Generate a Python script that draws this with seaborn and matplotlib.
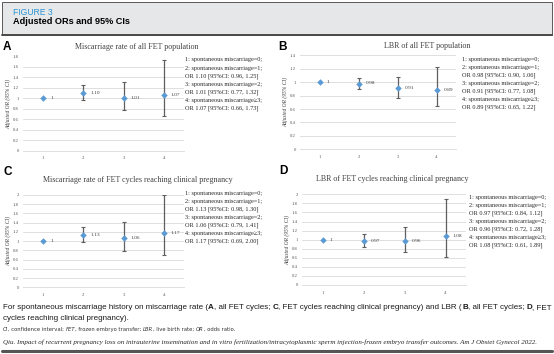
import matplotlib
matplotlib.use("Agg")
import matplotlib.pyplot as plt
import seaborn as sns
import pandas as pd
import numpy as np
from matplotlib.patches import Rectangle
from matplotlib.lines import Line2D

# ---------------- data ----------------
categories = [1, 2, 3, 4]

or_A = [1.00, 1.10, 1.01, 1.07]
lo_A = [1.00, 0.96, 0.77, 0.66]
hi_A = [1.00, 1.25, 1.32, 1.73]
lab_A = ["1", "1.10", "1.01", "1.07"]

or_B = [1.00, 0.98, 0.91, 0.89]
lo_B = [1.00, 0.90, 0.77, 0.65]
hi_B = [1.00, 1.06, 1.08, 1.22]
lab_B = ["1", "0.98", "0.91", "0.89"]

or_C = [1.00, 1.13, 1.06, 1.17]
lo_C = [1.00, 0.98, 0.79, 0.69]
hi_C = [1.00, 1.30, 1.41, 2.00]
lab_C = ["1", "1.13", "1.06", "1.17"]

or_D = [1.00, 0.97, 0.96, 1.08]
lo_D = [1.00, 0.84, 0.72, 0.61]
hi_D = [1.00, 1.12, 1.28, 1.89]
lab_D = ["1", "0.97", "0.96", "1.08"]

titles = {
    "A": "Miscarriage rate of all FET population",
    "B": "LBR of all FET population",
    "C": "Miscarriage rate of FET cycles reaching clinical pregnancy",
    "D": "LBR of FET cycles reaching clinical pregnancy",
}
ylabel = "Adjusted OR (95% CI)"

legend_A = ["1: spontaneous miscarriage=0;", "2: spontaneous miscarriage=1;",
            "OR 1.10 [95%CI: 0.96, 1.25]", "3: spontaneous miscarriage=2;",
            "OR 1.01 [95%CI: 0.77, 1.32]", "4: spontaneous miscarriage\u22653;",
            "OR 1.07 [95%CI: 0.66, 1.73]"]
legend_B = ["1: spontaneous miscarriage=0;", "2: spontaneous miscarriage=1;",
            "OR 0.98 [95%CI: 0.90, 1.06]", "3: spontaneous miscarriage=2;",
            "OR 0.91 [95%CI: 0.77, 1.08]", "4: spontaneous miscarriage\u22653;",
            "OR 0.89 [95%CI: 0.65, 1.22]"]
legend_C = ["1: spontaneous miscarriage=0;", "2: spontaneous miscarriage=1;",
            "OR 1.13 [95%CI: 0.98, 1.30]", "3: spontaneous miscarriage=2;",
            "OR 1.06 [95%CI: 0.79, 1.41]", "4: spontaneous miscarriage\u22653;",
            "OR 1.17 [95%CI: 0.69, 2.00]"]
legend_D = ["1: spontaneous miscarriage=0;", "2: spontaneous miscarriage=1;",
            "OR 0.97 [95%CI: 0.84, 1.12]", "3: spontaneous miscarriage=2;",
            "OR 0.96 [95%CI: 0.72, 1.28]", "4: spontaneous miscarriage\u22653;",
            "OR 1.08 [95%CI: 0.61, 1.89]"]

yticks_A = [0, 0.2, 0.4, 0.6, 0.8, 1, 1.2, 1.4, 1.6, 1.8]
yticks_B = [0, 0.2, 0.4, 0.6, 0.8, 1, 1.2, 1.4]
yticks_C = [0, 0.2, 0.4, 0.6, 0.8, 1, 1.2, 1.4, 1.6, 1.8, 2]
yticks_D = [0, 0.2, 0.4, 0.6, 0.8, 1, 1.2, 1.4, 1.6, 1.8, 2]

# ---------------- figure ----------------
sns.set_theme(style="white")
plt.rcParams["font.family"] = ["Liberation Serif", "DejaVu Serif"]

W, H = 554, 354
fig = plt.figure(figsize=(W / 100, H / 100), dpi=100)
fig.patch.set_facecolor("white")

def fx(px):
    return px / W

def fy(py):
    return 1 - py / H

BLUE = "#5B9BD5"
GRID = "#D9D9D9"
BAR = "#5f5f5f"

def panel(left, right, top_px, bottom_px, ymax, yticks, orv, lo, hi, labs,
          letter, letter_xy, title_xy, legend, leg_xy, ylab_x):
    ax = fig.add_axes([fx(left), fy(bottom_px), fx(right - left),
                       (bottom_px - top_px) / H])
    df = pd.DataFrame({"group": categories, "OR": orv, "lo": lo, "hi": hi})
    ax.errorbar(df["group"], df["OR"],
                yerr=[df["OR"] - df["lo"], df["hi"] - df["OR"]],
                fmt="none", ecolor=BAR, elinewidth=0.9, capsize=1.6,
                capthick=0.8, zorder=2)
    sns.scatterplot(data=df, x="group", y="OR", ax=ax, color=BLUE,
                    marker="D", s=11, linewidth=0, zorder=3, legend=False)
    for xv, yv, t in zip(df["group"], df["OR"], labs):
        ax.annotate(t, (xv, yv), xytext=(5, 0), textcoords="offset points",
                    fontsize=3.9, va="center", ha="left", color="#404040")
    ax.set_xlim(0.5, 4.5)
    ax.set_ylim(0, ymax)
    ax.set_yticks(yticks)
    ax.set_yticklabels([f"{v:g}" for v in yticks], fontsize=3.4, color="#595959")
    ax.set_xticks(categories)
    ax.set_xticklabels([str(c) for c in categories], fontsize=3.4, color="#595959")
    ax.tick_params(axis="y", length=0, pad=3)
    ax.tick_params(axis="x", length=0, pad=4)
    ax.grid(axis="y", color=GRID, linewidth=0.6)
    ax.set_axisbelow(True)
    for s in ["top", "right", "left"]:
        ax.spines[s].set_visible(False)
    ax.spines["bottom"].set_color(GRID)
    ax.spines["bottom"].set_linewidth(0.6)
    ax.set_xlabel("")
    ax.set_ylabel("")
    fig.text(fx(ylab_x), (fy(bottom_px) + fy(top_px)) / 2, ylabel,
             rotation=90, fontsize=4.0, style="italic", ha="center",
             va="center", color="#404040")
    fig.text(fx(letter_xy[0]), fy(letter_xy[1]), letter,
             fontsize=8.5, fontweight="bold", family="Liberation Sans",
             ha="left", va="center", color="black")
    fig.text(fx(title_xy[0]), fy(title_xy[1]), titles[letter],
             fontsize=5.8, ha="center", va="center", color="#404040")
    for i, line in enumerate(legend):
        fig.text(fx(leg_xy[0]), fy(leg_xy[1] + i * 8.1), line,
                 fontsize=4.5, ha="left", va="center", color="#262626")
    return ax

panel(23, 184, 56.5, 150.5, 1.8, yticks_A, or_A, lo_A, hi_A, lab_A,
      "A", (3, 47), (137, 47), legend_A, (185, 60), 8)
panel(300, 456, 55.3, 149.3, 1.4, yticks_B, or_B, lo_B, hi_B, lab_B,
      "B", (278, 47), (427, 46), legend_B, (462, 59), 285)
panel(23, 184, 195, 287.3, 2.0, yticks_C, or_C, lo_C, hi_C, lab_C,
      "C", (3, 172), (138, 180), legend_C, (185, 193), 8)
panel(302, 466, 194.3, 285, 2.0, yticks_D, or_D, lo_D, hi_D, lab_D,
      "D", (279, 171), (392, 179), legend_D, (469, 197), 287)

# ---------------- header ----------------
hdr = Rectangle((fx(2), fy(35)), fx(550), (33) / H, transform=fig.transFigure,
                facecolor="#E6E7E8", edgecolor="#5a5a5a", linewidth=0.7,
                zorder=0)
fig.patches.append(hdr)
fig.lines.append(Line2D([fx(2), fx(552)], [fy(35), fy(35)],
                        transform=fig.transFigure, color="#4a4a4a", lw=1.4))
fig.text(fx(13), fy(12.5), "FIGURE 3", fontsize=6.2, family="Liberation Sans",
         color="#2A93D5", ha="left", va="center")
fig.text(fx(13), fy(22), "Adjusted ORs and 95% CIs", fontsize=6.6,
         family="Liberation Sans", fontweight="bold", color="black",
         ha="left", va="center")

# ---------------- caption (mixed styles) ----------------
renderer = fig.canvas.get_renderer()

def run_width(text, **kw):
    t1 = fig.text(0, 0, text + "|", **kw)
    t2 = fig.text(0, 0, "|", **kw)
    w = t1.get_window_extent(renderer).width - t2.get_window_extent(renderer).width
    t1.remove()
    t2.remove()
    return w

def draw_runs(x_px, y_px, runs, **common):
    x = x_px
    for text, extra in runs:
        kw = dict(common)
        kw.update(extra)
        fig.text(fx(x), fy(y_px), text, ha="left", va="baseline", **kw)
        x += run_width(text, **kw)

cap = dict(fontsize=5.72, family="Liberation Sans", color="#1a1a1a")
B_ = {"fontweight": "bold"}
N_ = {}
draw_runs(3, 309, [
    ("For spontaneous miscarriage history on miscarriage rate (", N_),
    ("A", B_), (", all FET cycles; ", N_), ("C", B_),
    (", FET cycles reaching clinical pregnancy) and LBR (", N_),
    ("B", B_), (", all FET cycles; ", N_), ("D", B_), (", FET", N_)], **cap)
draw_runs(3, 320, [("cycles reaching clinical pregnancy).", N_)], **cap)

small = dict(fontsize=3.8, family="DejaVu Sans", color="#333333")
I_ = {"style": "italic"}
draw_runs(3, 331, [
    ("CI", I_), (", confidence interval; ", N_), ("FET", I_),
    (", frozen embryo transfer; ", N_), ("LBR", I_), (", live birth rate; ", N_),
    ("OR", I_), (", odds ratio.", N_)], **small)

draw_runs(3, 344, [(
    "Qiu. Impact of recurrent pregnancy loss on intrauterine insemination and in vitro "
    "fertilization/intracytoplasmic sperm injection-frozen embryo transfer outcomes. "
    "Am J Obstet Gynecol 2022.", {})],
    fontsize=5.05, style="italic", family="Liberation Serif", color="#262626")

fig.lines.append(Line2D([fx(2), fx(552)], [fy(350.5), fy(350.5)],
                        transform=fig.transFigure, color="#555555", lw=2.2))

fig.savefig("out.png", dpi=100)
